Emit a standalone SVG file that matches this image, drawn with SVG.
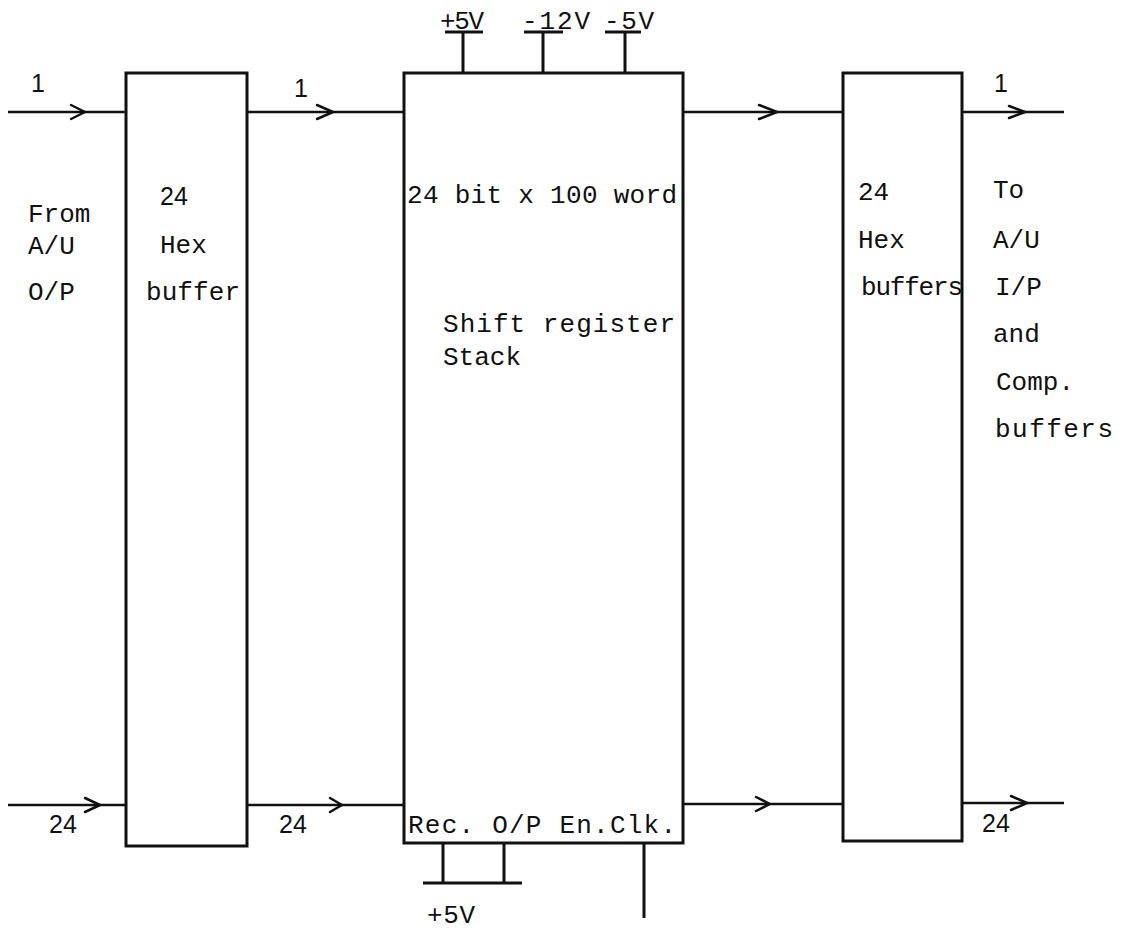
<svg xmlns="http://www.w3.org/2000/svg" width="1132" height="930" viewBox="0 0 1132 930">
<defs>
<style>
.box{fill:none;stroke:#111;stroke-width:3}
.ln{fill:none;stroke:#111;stroke-width:2.5}
.pin{fill:none;stroke:#111;stroke-width:3}
.chev{fill:none;stroke:#111;stroke-width:2.5;stroke-linecap:round;stroke-linejoin:round}
.tw{font-family:"Liberation Mono","DejaVu Sans Mono",monospace;font-size:26px;fill:#111}
.sn{font-family:"Liberation Sans",Arial,sans-serif;font-size:25px;fill:#111}
</style>
</defs>
<rect width="1132" height="930" fill="#fff"/>

<g id="connectors">
<!-- top row -->
<line class="ln" x1="8" y1="112" x2="126" y2="112"/>
<polyline class="chev" points="71,105 85,112 71,119"/>
<line class="ln" x1="247" y1="112" x2="404" y2="112"/>
<polyline class="chev" points="317,105 333,112 317,119"/>
<line class="ln" x1="683" y1="112" x2="843" y2="112"/>
<polyline class="chev" points="759,105 777,112 759,119"/>
<line class="ln" x1="962" y1="112" x2="1064" y2="112"/>
<polyline class="chev" points="1009,106 1025,112 1009,118"/>
<!-- bottom row -->
<line class="ln" x1="8" y1="805" x2="126" y2="805"/>
<polyline class="chev" points="85,798 100,805 85,812"/>
<line class="ln" x1="247" y1="805" x2="404" y2="805"/>
<polyline class="chev" points="330,798 342,805 330,812"/>
<line class="ln" x1="683" y1="804" x2="843" y2="804"/>
<polyline class="chev" points="756,797 770,804 756,811"/>
<line class="ln" x1="962" y1="803" x2="1064" y2="803"/>
<polyline class="chev" points="1011,796 1027,803 1011,810"/>
<!-- top power pins -->
<line class="pin" x1="463" y1="32" x2="463" y2="73"/>
<line class="pin" x1="445" y1="32" x2="483" y2="32"/>
<line class="pin" x1="543" y1="32" x2="543" y2="73"/>
<line class="pin" x1="524" y1="32" x2="563" y2="32"/>
<line class="pin" x1="625" y1="32" x2="625" y2="73"/>
<line class="pin" x1="605" y1="32" x2="641" y2="32"/>
<!-- bottom pins -->
<line class="pin" x1="443" y1="843" x2="443" y2="883"/>
<line class="pin" x1="504" y1="843" x2="504" y2="883"/>
<line class="pin" x1="423" y1="883" x2="522" y2="883"/>
<line class="pin" x1="644" y1="843" x2="644" y2="918"/>
</g>

<g id="node-hex-buffer-in">
<rect class="box" x="126" y="73" width="121" height="773"/>
<text class="sn" x="160" y="205">24</text>
<text class="tw" x="160" y="253">Hex</text>
<text class="tw" x="146" y="300" textLength="94">buffer</text>
</g>

<g id="node-shift-register">
<rect class="box" x="404" y="73" width="279" height="770"/>
<text class="tw" x="407" y="203" textLength="270">24 bit x 100 word</text>
<text class="tw" x="443" y="332" textLength="232">Shift register</text>
<text class="tw" x="443" y="365">Stack</text>
<text class="tw" x="408" y="833" textLength="268">Rec. O/P En.Clk.</text>
</g>

<g id="node-hex-buffers-out">
<rect class="box" x="843" y="73" width="119" height="768"/>
<text class="tw" x="858" y="200">24</text>
<text class="tw" x="858" y="248">Hex</text>
<text class="tw" x="861" y="295" textLength="102">buffers</text>
</g>

<g id="labels">
<text class="sn" x="31" y="92">1</text>
<text class="sn" x="294" y="97">1</text>
<text class="sn" x="994" y="92">1</text>
<text class="sn" x="49" y="833">24</text>
<text class="sn" x="279" y="833">24</text>
<text class="sn" x="982" y="832">24</text>
<text class="tw" x="28" y="222">From</text>
<text class="tw" x="28" y="254">A/U</text>
<text class="tw" x="28" y="300">O/P</text>
<text class="tw" x="993" y="198">To</text>
<text class="tw" x="993" y="248">A/U</text>
<text class="tw" x="995" y="295">I/P</text>
<text class="tw" x="993" y="342">and</text>
<text class="tw" x="996" y="390">Comp.</text>
<text class="tw" x="995" y="437" textLength="118">buffers</text>
<text class="tw" x="440" y="29" textLength="44">+5V</text>
<text class="tw" x="522" y="29" textLength="68">-12V</text>
<text class="tw" x="604" y="29" textLength="50">-5V</text>
<text class="tw" x="427" y="923" textLength="48">+5V</text>
</g>
</svg>
